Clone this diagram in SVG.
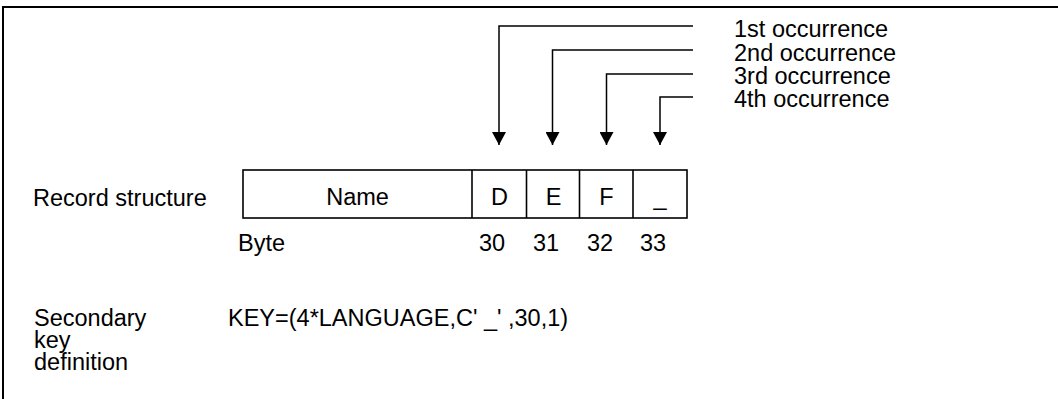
<svg xmlns="http://www.w3.org/2000/svg" width="1058" height="399" viewBox="0 0 1058 399">
  <style>
    text { font-family: "Liberation Sans", Arial, sans-serif; font-size: 23.5px; fill: #000; }
    .mid { text-anchor: middle; }
    .frame, .cell, .conn { fill: none; stroke: #000; }
    .frame { stroke-width: 2; }
    .cell { stroke-width: 1.6; }
    .conn { stroke-width: 1.5; }
  </style>
  <defs>
    <marker id="arrow" markerUnits="userSpaceOnUse" markerWidth="14" markerHeight="14" refX="13" refY="7" orient="auto">
      <path d="M0,0 L13,7 L0,14 Z" fill="#000"/>
    </marker>
  </defs>

  <rect width="1058" height="399" fill="#fff"/>

  <!-- page frame: top rule and left rule -->
  <path class="frame" d="M3,399 V7 H1058"/>

  <!-- occurrence labels -->
  <g id="occurrences">
    <text x="734" y="37">1st occurrence</text>
    <text x="734" y="61">2nd occurrence</text>
    <text x="734" y="84">3rd occurrence</text>
    <text x="734" y="107">4th occurrence</text>
  </g>

  <!-- connectors from labels down to the record bytes -->
  <g id="connectors">
    <path class="conn" d="M693,26 H499 V145" marker-end="url(#arrow)"/>
    <path class="conn" d="M693,50 H552.5 V145" marker-end="url(#arrow)"/>
    <path class="conn" d="M693,74 H606.5 V145" marker-end="url(#arrow)"/>
    <path class="conn" d="M693,97 H660 V145" marker-end="url(#arrow)"/>
  </g>

  <g id="record-label">
    <text x="33" y="206">Record structure</text>
  </g>

  <!-- record layout -->
  <g id="record">
    <rect class="cell" x="243" y="170" width="444" height="48"/>
    <line class="cell" x1="472" y1="170" x2="472" y2="218"/>
    <line class="cell" x1="526.5" y1="170" x2="526.5" y2="218"/>
    <line class="cell" x1="579.5" y1="170" x2="579.5" y2="218"/>
    <line class="cell" x1="633" y1="170" x2="633" y2="218"/>
    <text class="mid" x="357.5" y="205">Name</text>
    <text class="mid" x="499.5" y="205">D</text>
    <text class="mid" x="553.5" y="205">E</text>
    <text class="mid" x="606.5" y="205">F</text>
    <text class="mid" x="660" y="205">_</text>
  </g>

  <g id="byte-positions">
    <text x="238" y="251">Byte</text>
    <text x="479" y="251">30</text>
    <text x="533" y="251">31</text>
    <text x="587" y="251">32</text>
    <text x="640" y="251">33</text>
  </g>

  <g id="key-definition">
    <text x="34" y="326">Secondary</text>
    <text x="34" y="348">key</text>
    <text x="34" y="370">definition</text>
    <text x="228" y="326">KEY=(4*LANGUAGE,C' _' ,30,1)</text>
  </g>
</svg>
